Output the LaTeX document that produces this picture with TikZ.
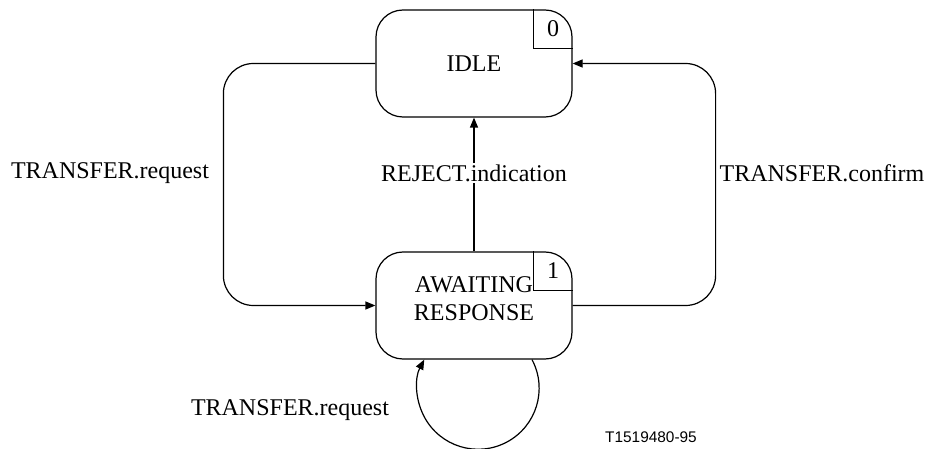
\documentclass[tikz,border=0pt]{standalone}
\usepackage{fontspec}
\setmainfont{Liberation Serif}
\setsansfont{Liberation Sans}
\usetikzlibrary{arrows.meta}

\begin{document}
\begin{tikzpicture}[
            x=0.5pt, y=0.5pt,
            every node/.style={font=\fontsize{12}{14}\selectfont},
            state/.style={
                rectangle,
                draw,
                line width=0.6pt,
                rounded corners=13.5pt,
                minimum width=98pt,
                minimum height=53.5pt,
                align=center,
                inner sep=0pt
            },
            num/.style={
                rectangle,
                minimum width=19pt,
                minimum height=19pt,
                inner sep=0pt
            },
            trans/.style={
                -{Triangle[length=5pt,width=4pt]},
                line width=0.6pt
            },
            note/.style={
                fill=white,
                inner sep=1pt
            }
        ]
            \useasboundingbox (0,0) rectangle (928,-449);

            % States
            \node[state] (idle) at (474,-63.5) {IDLE};
            \node[state] (await) at (474,-305.5) {AWAITING\\RESPONSE\\[-7pt]};

            % State numbers
            \node[num, anchor=north east] (idlenum) at (idle.north east) {0};
            \node[num, anchor=north east] (awaitnum) at (await.north east) {1};
            \draw[line width=0.6pt] (idlenum.north west) |- (idlenum.south east);
            \draw[line width=0.6pt] (awaitnum.north west) |- (awaitnum.south east);

            % Transitions
            \draw[trans, rounded corners=15pt] (idle.west) -- ++(-152,0) |- (await.west);
            \draw[trans, rounded corners=15pt] (await.east) -- ++(143,0) |- (idle.east);
            \draw[trans] (await.north) -- (idle.south);
            \draw[trans] (await.south) ++(58,0) arc[start angle=28, end angle=-208, radius=61];

            % Labels
            \node[note] (reject) at (474,-173) {REJECT.indication};
            \node (treq) at (110,-173) {TRANSFER.request};
            \node (tconf) at (822,-173) {TRANSFER.confirm};
            \node (tloop) at (290,-410) {TRANSFER.request};
            \node[font=\sffamily\fontsize{7.7}{9}\selectfont] (ref) at (651,-437) {T1519480-95};
        \end{tikzpicture}
\end{document}
